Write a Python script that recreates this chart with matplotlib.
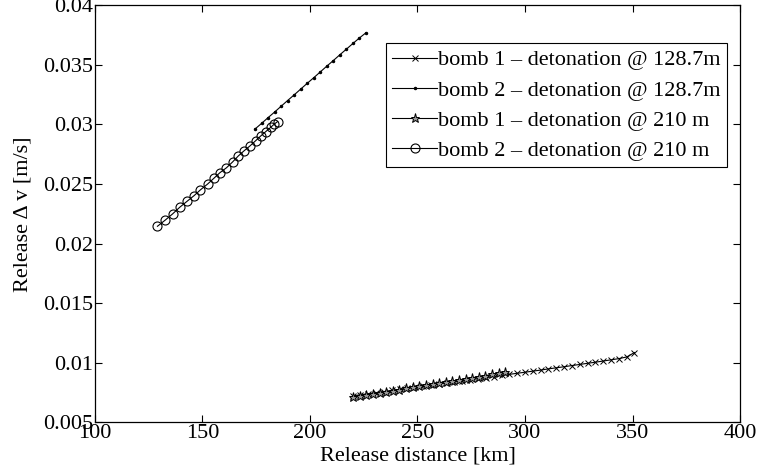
import matplotlib
matplotlib.use("Agg")
import matplotlib.pyplot as plt

plt.rcParams['font.family'] = ['Liberation Serif', 'DejaVu Serif']

# bomb 1 - detonation @ 128.7m (x markers)
dist_b1_128 = [220.0, 223.5, 227.1, 230.8, 234.4, 238.0, 241.7, 245.3, 249.0, 252.6,
               256.3, 259.9, 263.6, 267.2, 270.9, 274.5, 278.1, 281.8, 285.4, 289.1,
               292.7, 296.3, 300.0, 303.6, 307.3, 310.9, 314.5, 318.2, 321.8, 325.4,
               329.1, 332.7, 336.4, 340.0, 343.6, 347.3, 350.9]
dv_b1_128 = [0.00722, 0.00731, 0.00740, 0.00749, 0.00758, 0.00767, 0.00776, 0.00785, 0.00794, 0.00803,
             0.00812, 0.00821, 0.00830, 0.00839, 0.00848, 0.00857, 0.00866, 0.00875, 0.00884, 0.00893,
             0.00902, 0.00911, 0.00920, 0.00929, 0.00938, 0.00948, 0.00957, 0.00966, 0.00976, 0.00985,
             0.00995, 0.01004, 0.01014, 0.01024, 0.01034, 0.01048, 0.01085]

# bomb 2 - detonation @ 128.7m (dot markers)
dist_b2_128 = [174.4, 177.5, 180.5, 183.6, 186.6, 189.6, 192.7, 195.7, 198.7, 201.8,
               204.8, 207.8, 210.9, 213.9, 217.0, 220.0, 223.0, 226.0]
dv_b2_128 = [0.02960, 0.03008, 0.03056, 0.03104, 0.03152, 0.03200, 0.03248, 0.03296, 0.03344, 0.03392,
             0.03440, 0.03488, 0.03536, 0.03584, 0.03632, 0.03679, 0.03725, 0.03768]

# bomb 1 - detonation @ 210 m (star markers)
dist_b1_210 = [220.0, 223.1, 226.2, 229.3, 232.4, 235.4, 238.5, 241.6, 244.7, 247.8,
               250.8, 253.9, 257.0, 260.1, 263.2, 266.2, 269.3, 272.4, 275.5, 278.6,
               281.6, 284.7, 287.8, 290.8]
dv_b1_210 = [0.00712, 0.00721, 0.00730, 0.00739, 0.00748, 0.00757, 0.00766, 0.00775, 0.00784, 0.00793,
             0.00802, 0.00811, 0.00820, 0.00829, 0.00838, 0.00847, 0.00856, 0.00865, 0.00874, 0.00883,
             0.00892, 0.00901, 0.00910, 0.00920]

# bomb 2 - detonation @ 210 m (circle markers)
dist_b2_210 = [129.1, 132.6, 136.1, 139.5, 142.9, 146.2, 149.1, 152.4, 155.3, 158.1,
               161.2, 164.0, 166.7, 169.3, 172.1, 174.7, 177.2, 179.5, 181.7, 183.4, 185.0]
dv_b2_210 = [0.02145, 0.02195, 0.02248, 0.02305, 0.02355, 0.02403, 0.02451, 0.02499, 0.02547, 0.02594,
             0.02636, 0.02684, 0.02735, 0.02777, 0.02819, 0.02862, 0.02904, 0.02940, 0.02974, 0.03002, 0.03024]

fig = plt.figure(figsize=(7.59, 4.75), dpi=100)
ax = fig.add_axes([0.125, 0.111, 0.85, 0.878])

lw = 0.8
ax.plot(dist_b1_128, dv_b1_128, 'k-', marker='x', markersize=5, linewidth=lw,
        markeredgewidth=0.7, label='bomb 1 \u2013 detonation @ 128.7m')
ax.plot(dist_b2_128, dv_b2_128, 'k-', marker='.', markersize=3, linewidth=lw,
        label='bomb 2 \u2013 detonation @ 128.7m')
ax.plot(dist_b1_210, dv_b1_210, 'k-', marker='*', markersize=6.5, linewidth=lw,
        markerfacecolor='0.6', markeredgewidth=0.7, label='bomb 1 \u2013 detonation @ 210 m')
ax.plot(dist_b2_210, dv_b2_210, 'k-', marker='o', markersize=6.5, linewidth=lw,
        markerfacecolor='none', markeredgewidth=0.8, label='bomb 2 \u2013 detonation @ 210 m')

ax.set_xlim(100, 400)
ax.set_ylim(0.005, 0.04)
ax.set_xticks([100, 150, 200, 250, 300, 350, 400])
ax.set_yticks([0.005, 0.01, 0.015, 0.02, 0.025, 0.03, 0.035, 0.04])
ax.set_yticklabels(['0.005', '0.01', '0.015', '0.02', '0.025', '0.03', '0.035', '0.04'])
ax.tick_params(direction='in', top=True, right=True, length=5, width=0.8,
               labelsize=16, pad=1)
for s in ax.spines.values():
    s.set_linewidth(0.9)

ax.set_xlabel('Release distance [km]', fontsize=16, labelpad=3)
ax.set_ylabel('Release \u0394 v [m/s]', fontsize=16, labelpad=8)

leg = ax.legend(loc='upper right', bbox_to_anchor=(0.980, 0.909), fontsize=16,
                fancybox=False, framealpha=1, edgecolor='black',
                handlelength=2.0, handletextpad=0.05, borderpad=0.3,
                labelspacing=0.43, borderaxespad=0)
leg.get_frame().set_linewidth(0.8)

fig.savefig('out.png', dpi=100)
